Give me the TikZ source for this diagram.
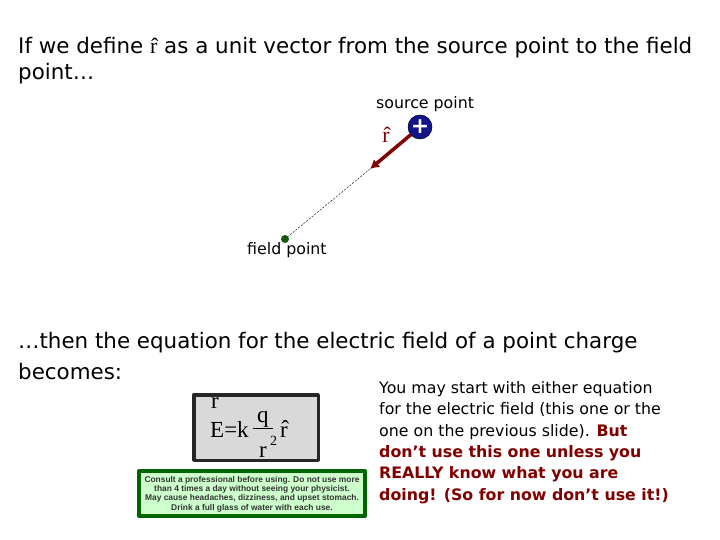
\documentclass[tikz,border=0pt]{standalone}
\usepackage{amsmath}
\usepackage{fontspec}
\setmainfont{DejaVu Sans}
\newfontfamily\timesf{Liberation Serif}
\newfontfamily\warnf{Liberation Sans}
\usepackage{tikz}
\usetikzlibrary{arrows.meta}

\definecolor{darkred}{RGB}{128,0,0}
\definecolor{chargeblue}{RGB}{20,20,140}
\definecolor{fieldgreen}{RGB}{20,90,20}
\definecolor{boxgray}{RGB}{217,217,217}
\definecolor{warngreen}{RGB}{204,255,204}
\definecolor{warnborder}{RGB}{0,100,0}

\begin{document}
\begin{tikzpicture}[
						x=1pt, y=-1pt,
						every node/.style={inner sep=0pt, anchor=west},
						bigtext/.style={font=\fontsize{21.4}{25}\selectfont},
						smalltext/.style={font=\fontsize{15.8}{21.4}\selectfont},
						eqtext/.style={font=\timesf\fontsize{23}{23}\selectfont, anchor=base west},
						line cap=round,
						line join=round
						]
						
						\useasboundingbox (0,0) rectangle (720,540);
						
						% Heading
						\node[bigtext] (line1) at (18,48) {If we define {\timesf\fontsize{22}{22}\selectfont \^{r}} as a unit vector from the source point to the field};
						\node[bigtext] (line2) at (18,74) {point…};
						
						% Source charge
						\node[smalltext] (srclabel) at (376,104) {source point};
						\node[circle, minimum size=24pt, fill=chargeblue, draw=black, line width=0.5pt, anchor=center,
						font=\fontsize{22}{22}\selectfont\bfseries, text=white] (source) at (420,127) {\raisebox{0.1ex}{+}};
						
						% Unit vector and separation
						\coordinate (tip) at (370,169);
						\draw[darkred, line width=3.5pt, -{Latex[length=9pt,width=10pt]}] (source) -- (tip);
						\node[font=\timesf\fontsize{22}{22}\selectfont, text=darkred, anchor=center] (rhat2) at (386,135) {\^{r}};
						\node[circle, minimum size=8pt, fill=fieldgreen, anchor=center] (field) at (285,239) {};
						\draw[line width=0.4pt, dash pattern=on 2pt off 1.5pt] (tip) -- (field);
						\node[smalltext] (fieldlabel) at (247,250) {field point};
						
						% Second paragraph
						\node[bigtext] (line3) at (18,343) {…then the equation for the electric field of a point charge};
						\node[bigtext] (line4) at (18,372) {becomes:};
						
						% Equation box
						\node[draw=black!85, line width=3.5pt, fill=boxgray, minimum width=124.5pt, minimum height=65.5pt, anchor=center] (eqbox) at (256,427.5) {};
						\node[eqtext] (eqvec) at (211,408) {r};
						\node[eqtext] (eqlhs) at (210,437) {E=k};
						\node[eqtext] (eqnum) at (257,422) {q};
						\draw[line width=0.8pt, line cap=butt] (253,428) -- (273,428);
						\node[eqtext] (eqden) at (259,457) {r};
						\node[eqtext, font=\timesf\fontsize{14}{14}\selectfont] (eqsq) at (270,445) {2};
						\node[eqtext] (eqhat) at (280,437) {\^{r}};
						
						% Warning label
						\node[draw=warnborder, line width=4pt, fill=warngreen, minimum width=226pt, minimum height=45pt, anchor=center] (warnbox) at (252,493.5) {};
						\node[font=\warnf\bfseries\fontsize{8.4}{9.4}\selectfont, align=center, anchor=center, text=black!80] (warn) at (252,494)
						{Consult a professional before using. Do not use more\\
							than 4 times a day without seeing your physicist.\\
							May cause headaches, dizziness, and upset stomach.\\
							Drink a full glass of water with each use.};
						
						% Side note
						\node[smalltext, align=left, anchor=north west] (note) at (379,381)
						{You may start with either equation\\
							for the electric field (this one or the\\
							one on the previous slide). \textcolor{darkred}{\bfseries But}\\
							\textcolor{darkred}{\bfseries don’t use this one unless you}\\
							\textcolor{darkred}{\bfseries REALLY know what you are}\\
							\textcolor{darkred}{\bfseries doing! (So for now don’t use it!)}};
						
					\end{tikzpicture}
\end{document}
